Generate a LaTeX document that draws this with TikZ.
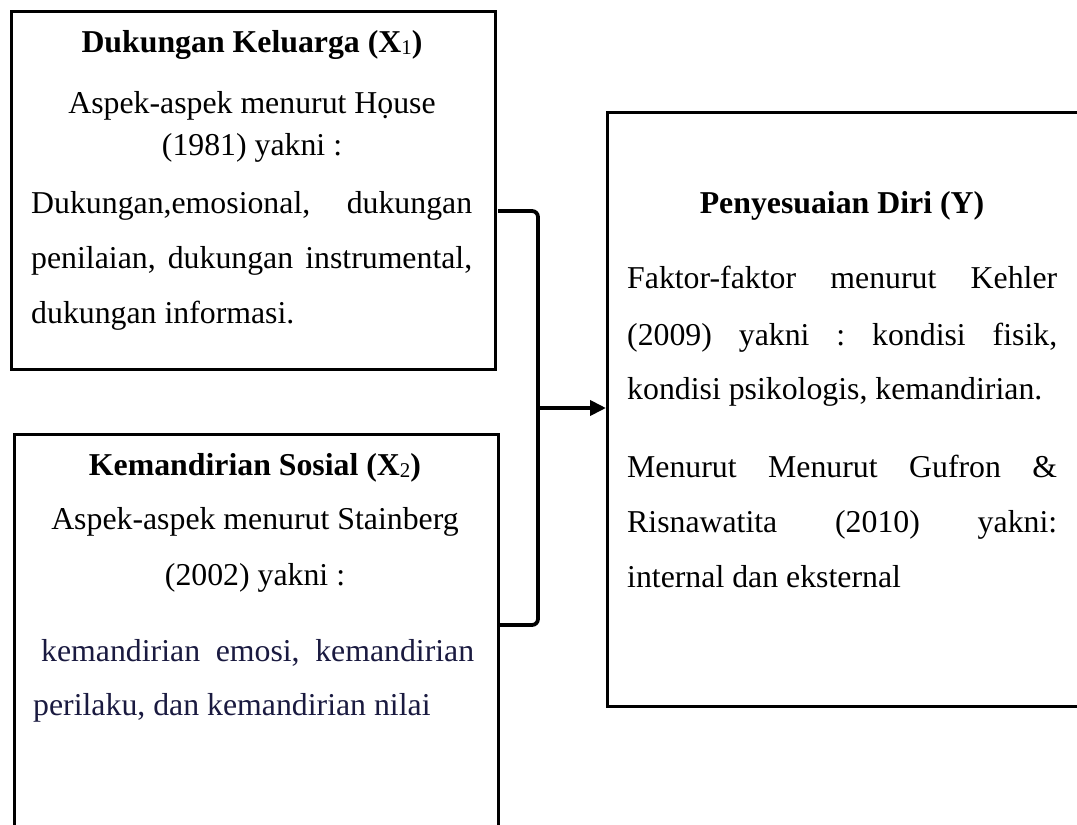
\documentclass[tikz,border=0pt]{standalone}
\usepackage{fontspec}
\setmainfont{Liberation Serif}
\usetikzlibrary{arrows.meta}
\definecolor{navytext}{HTML}{1A1A40}
\newcommand{\subone}[1]{{\fontsize{21}{21}\selectfont\mdseries\raisebox{-2pt}{#1}}}
\tikzset{
  boxframe/.style={draw=black, line width=2.5pt, inner sep=0pt, anchor=north west},
  txt/.style={inner sep=0pt, font=\fontsize{31.8}{38}\selectfont},
  txtc/.style={txt, anchor=base},
  txtl/.style={txt, anchor=base west},
  bracketline/.style={line width=3.8pt, rounded corners=6pt},
  arrowline/.style={line width=3.8pt, -{Triangle[length=16pt,width=15pt]}}
}
\begin{document}
\begin{tikzpicture}[x=1pt,y=-1pt]
\useasboundingbox (0,0) rectangle (1077,825);
\clip (0,0) rectangle (1077,825);
% boxes
\node[boxframe, minimum width=484pt, minimum height=358pt] (box1) at (10,10) {};
\node[boxframe, minimum width=484pt, minimum height=420pt] (box2) at (13,433) {};
\node[boxframe, minimum width=490pt, minimum height=594pt] (box3) at (606,111) {};
% box 1 text
\node[txtc] (t1a) at (252,52) {\textbf{Dukungan Keluarga (X\subone{1})}};
\node[txtc] (t1b) at (252,113) {Aspek-aspek menurut Họuse};
\node[txtc] (t1c) at (252,155) {(1981) yakni :};
\node[txtl] (t1d) at (31,213) {\hbox to 441pt{Dukungan,emosional,\hfill dukungan}};
\node[txtl] (t1e) at (31,268) {\hbox to 441pt{penilaian,\hfill dukungan\hfill instrumental,}};
\node[txtl] (t1f) at (31,323) {dukungan informasi.};
% box 2 text
\node[txtc] (t2a) at (255,475) {\textbf{Kemandirian Sosial (X\subone{2})}};
\node[txtc] (t2b) at (255,529) {Aspek-aspek menurut Stainberg};
\node[txtc] (t2c) at (255,585) {(2002) yakni :};
\node[txtl, text=navytext] (t2d) at (41,661) {\hbox to 433pt{kemandirian\hfill emosi,\hfill kemandirian}};
\node[txtl, text=navytext] (t2e) at (33,715) {perilaku, dan kemandirian nilai};
% box 3 text
\node[txtc] (t3a) at (842,213) {\textbf{Penyesuaian Diri (Y)}};
\node[txtl] (t3b) at (627,288) {\hbox to 430pt{Faktor-faktor\hfill menurut\hfill Kehler}};
\node[txtl] (t3c) at (627,345) {\hbox to 430pt{(2009)\hfill yakni\hfill :\hfill kondisi\hfill fisik,}};
\node[txtl] (t3d) at (627,399) {kondisi psikologis, kemandirian.};
\node[txtl] (t3e) at (627,477) {\hbox to 430pt{Menurut\hfill Menurut\hfill Gufron\hfill \&}};
\node[txtl] (t3f) at (627,532) {\hbox to 430pt{Risnawatita\hfill (2010)\hfill yakni:}};
\node[txtl] (t3g) at (627,587) {internal dan eksternal};
% connectors
\coordinate (top1) at (498,211);
\coordinate (topc) at (538,211);
\coordinate (botc) at (538,625);
\coordinate (bot2) at (498,625);
\coordinate (join) at (538,408);
\draw[bracketline] (top1) -- (topc) -- (botc) -- (bot2);
\draw[arrowline] (join) -- (join -| box3.west);
\end{tikzpicture}
\end{document}
